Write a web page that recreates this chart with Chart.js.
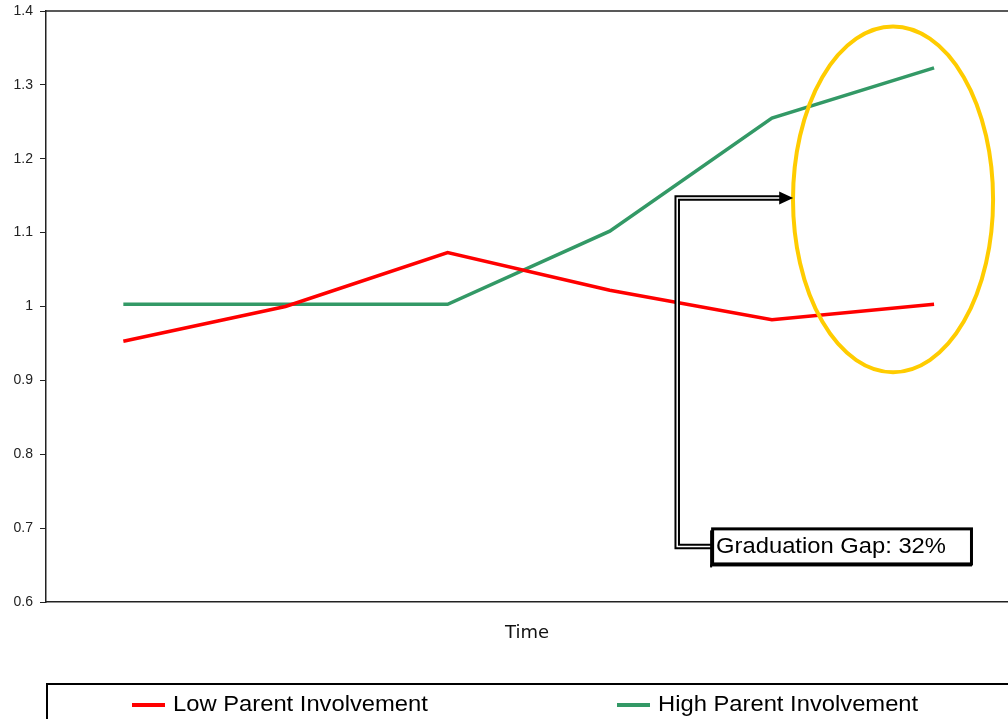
<!DOCTYPE html>
<html>
<head>
<meta charset="utf-8">
<script src="https://cdn.jsdelivr.net/npm/chart.js@4.4.1/dist/chart.umd.min.js"></script>
<style>
    html, body { margin: 0; padding: 0; background: #fff; overflow: hidden; }
    #wrap { width: 1008px; height: 719px; }
</style>
</head>
<body>
<div id="wrap"><canvas id="gapChart" width="1008" height="719"></canvas></div>
<script>
// ======== Data =========
const periods = [1, 2, 3, 4, 5, 6];
const lowInvolvement = [0.953, 1.0, 1.073, 1.022, 0.982, 1.003];
const highInvolvement = [1.003, 1.003, 1.003, 1.102, 1.255, 1.323];
const seriesNames = ['Low Parent Involvement', 'High Parent Involvement'];
const yTicks = [0.6, 0.7, 0.8, 0.9, 1.0, 1.1, 1.2, 1.3, 1.4];
const calloutText = 'Graduation Gap: 32%';

// callout geometry, in data units (x = period, y = value)
const ringX = [5.13, 6.364];
const ringY = [0.911, 1.379];
const arrowTip = { x: 5.131, y: 1.147 };
const elbowX = 4.416;
const boxX = [4.625, 6.24];
const boxY = [0.6495, 0.701];

const colors = ['#ff0000', '#339966'];
const textStretch = 1.08;

// text a bit wider than the font, like the original export
function wideText(ctx, text, x, y) {
    ctx.save();
    ctx.translate(x, y);
    ctx.scale(textStretch, 1);
    ctx.fillText(text, 0, 0);
    ctx.restore();
}

const calloutPlugin = {
    id: 'callout',
    afterDatasetsDraw(chart) {
        const { ctx, chartArea, scales: { x, y } } = chart;
        const px = v => x.getPixelForValue(v);
        const py = v => y.getPixelForValue(v);
        ctx.save();

        // top edge of plot area
        ctx.strokeStyle = '#222';
        ctx.lineWidth = 1.3;
        ctx.beginPath();
        ctx.moveTo(chartArea.left, chartArea.top);
        ctx.lineTo(chartArea.right, chartArea.top);
        ctx.stroke();

        // yellow ring
        const cx = (px(ringX[0]) + px(ringX[1])) / 2;
        const cy = (py(ringY[0]) + py(ringY[1])) / 2;
        const rx = (px(ringX[1]) - px(ringX[0])) / 2;
        const ry = (py(ringY[0]) - py(ringY[1])) / 2;
        ctx.strokeStyle = '#ffcc00';
        ctx.lineWidth = 4;
        ctx.beginPath();
        ctx.ellipse(cx, cy, rx, ry, 0, 0, Math.PI * 2);
        ctx.stroke();

        // elbow connector (double line)
        const bx = px(boxX[0]);
        const by = (py(boxY[0]) + py(boxY[1])) / 2;
        const ex = px(elbowX);
        const tx = px(arrowTip.x);
        const ty = py(arrowTip.y);
        const path = () => {
            ctx.beginPath();
            ctx.moveTo(bx, by);
            ctx.lineTo(ex, by);
            ctx.lineTo(ex, ty);
            ctx.lineTo(tx - 12, ty);
        };
        ctx.lineJoin = 'miter';
        ctx.strokeStyle = '#000';
        ctx.lineWidth = 5.5;
        path(); ctx.stroke();
        ctx.strokeStyle = '#fff';
        ctx.lineWidth = 1.5;
        path(); ctx.stroke();

        // arrow head
        ctx.fillStyle = '#000';
        ctx.beginPath();
        ctx.moveTo(tx, ty);
        ctx.lineTo(tx - 14, ty - 6.5);
        ctx.lineTo(tx - 14, ty + 6.5);
        ctx.closePath();
        ctx.fill();

        // text box
        const left = px(boxX[0]), right = px(boxX[1]);
        const top = py(boxY[1]), bottom = py(boxY[0]);
        ctx.fillStyle = '#fff';
        ctx.fillRect(left, top, right - left, bottom - top);
        ctx.strokeStyle = '#000';
        ctx.lineWidth = 3;
        ctx.strokeRect(left + 1.5, top + 1.5, right - left - 3, bottom - top - 3);
        ctx.fillStyle = '#000';
        ctx.fillRect(left - 1, top + 3, 2, bottom - top - 1);
        ctx.fillRect(left - 1, bottom - 1, right - left, 2);
        ctx.font = '22px "Liberation Sans", Arial, sans-serif';
        ctx.textBaseline = 'middle';
        ctx.textAlign = 'left';
        wideText(ctx, calloutText, left + 5, (top + bottom) / 2 + 1);

        ctx.restore();
    },
    afterDraw(chart) {
        // legend with frame
        const { ctx, chartArea } = chart;
        const top = chartArea.bottom + 82;
        const left = chartArea.left + 1;
        const itemX = [132, 617];
        ctx.save();
        ctx.strokeStyle = '#000';
        ctx.lineWidth = 2;
        ctx.strokeRect(left, top, chart.width + 20, 100);
        ctx.font = '22px "Liberation Sans", Arial, sans-serif';
        ctx.textBaseline = 'middle';
        ctx.textAlign = 'left';
        seriesNames.forEach((name, i) => {
            ctx.fillStyle = colors[i];
            ctx.fillRect(itemX[i], top + 19, 33, 4);
            ctx.fillStyle = '#000';
            wideText(ctx, name, itemX[i] + 41, top + 21);
        });
        ctx.restore();
    }
};

const ctx = document.getElementById('gapChart').getContext('2d');
new Chart(ctx, {
    type: 'line',
    data: {
        datasets: [
            {
                label: seriesNames[0],
                data: periods.map((p, i) => ({ x: p, y: lowInvolvement[i] })),
                borderColor: colors[0],
                borderWidth: 3.5,
                pointRadius: 0,
                tension: 0
            },
            {
                label: seriesNames[1],
                data: periods.map((p, i) => ({ x: p, y: highInvolvement[i] })),
                borderColor: colors[1],
                borderWidth: 3.5,
                pointRadius: 0,
                tension: 0
            }
        ]
    },
    options: {
        responsive: false,
        animation: false,
        devicePixelRatio: 1,
        layout: { padding: { top: 11, right: 0, bottom: 73, left: 0 } },
        scales: {
            x: {
                type: 'linear',
                min: 0.523,
                max: 6.456,
                afterFit: s => { s.height = 44; s.paddingLeft = 0; s.paddingRight = 0; },
                ticks: { display: false },
                grid: { display: true, drawOnChartArea: false, drawTicks: false },
                border: { display: true, color: '#222', width: 1.5 },
                title: {
                    display: true,
                    text: 'Time',
                    color: '#111',
                    font: { family: '"DejaVu Sans", sans-serif', size: 18 },
                    padding: { top: 0, bottom: 2 }
                }
            },
            y: {
                min: 0.6,
                max: 1.4,
                afterFit: s => { s.width = 46; s.paddingTop = 0; s.paddingBottom = 0; },
                afterBuildTicks: s => { s.ticks = yTicks.map(v => ({ value: v })); },
                ticks: {
                    color: '#222',
                    padding: 7,
                    font: { family: '"Liberation Sans", Arial, sans-serif', size: 14 },
                    callback: v => String(+Number(v).toFixed(1))
                },
                grid: { drawOnChartArea: false, drawTicks: true, tickLength: 6, color: '#222' },
                border: { display: true, color: '#222', width: 1.5 }
            }
        },
        plugins: {
            legend: { display: false },
            tooltip: { enabled: false }
        }
    },
    plugins: [calloutPlugin]
});
</script>
</body>
</html>
